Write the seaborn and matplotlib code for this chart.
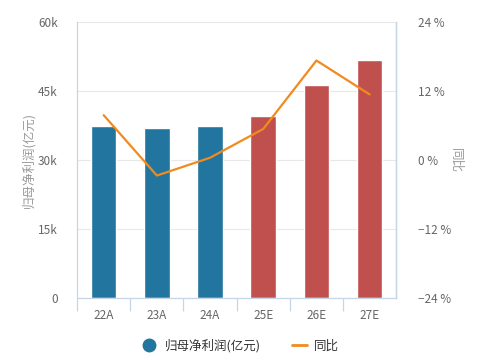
import numpy as np
import pandas as pd
import matplotlib
matplotlib.use("Agg")
import matplotlib.pyplot as plt
from matplotlib.lines import Line2D
from matplotlib.ticker import FuncFormatter, FixedLocator
import seaborn as sns

##chart data
years = ["22A", "23A", "24A", "25E", "26E", "27E"]
profit = [37400, 37000, 37400, 39600, 46300, 51700]   # 归母净利润(亿元)
yoy = [7.8, -2.7, 0.4, 5.4, 17.3, 11.4]               # 同比 %
is_forecast = [False, False, False, True, True, True]

##style
sns.set_theme(style="white")
plt.rcParams['font.family'] = ['Noto Sans CJK SC', 'DejaVu Sans']
blue = "#21759f"
red = "#c0504d"
orange = "#f28a1e"
axis_col = "#c7d6e6"
text_col = "#666666"

df = pd.DataFrame({"year": years, "profit": profit, "yoy": yoy,
                   "kind": ["E" if f else "A" for f in is_forecast]})

fig = plt.figure(figsize=(4.91, 3.6), dpi=100)
ax = fig.add_axes([0.157, 0.172, 0.65, 0.767])

sns.barplot(data=df, x="year", y="profit", hue="kind",
            palette={"A": blue, "E": red}, width=0.48, dodge=False,
            legend=False, saturation=1, ax=ax)
ax.set_ylim(0, 60000)
ax.set_xlim(-0.5, len(years) - 0.5)
ax.yaxis.set_major_locator(FixedLocator([0, 15000, 30000, 45000, 60000]))
ax.yaxis.set_major_formatter(FuncFormatter(lambda v, p: "0" if v == 0 else f"{int(v/1000)}k"))
ax.grid(axis="y", color="#e8e8e8", linewidth=0.8)
ax.set_axisbelow(True)
ax.set_xlabel("")
ax.set_ylabel("归母净利润(亿元)", color="#999999", fontsize=9, labelpad=2)

ax.spines["top"].set_visible(False)
for s in ["left", "right", "bottom"]:
    ax.spines[s].set_color(axis_col)
    ax.spines[s].set_linewidth(0.9)

ax.tick_params(axis="y", length=0, labelsize=8.5, labelcolor=text_col, pad=14)
ax.tick_params(axis="x", length=0, labelsize=8.5, labelcolor=text_col, pad=8)
ax.set_xticks(np.arange(len(years)) - 0.5, minor=True)
ax.tick_params(axis="x", which="minor", bottom=True, length=9, color=axis_col, width=0.9)

##YoY line on right axis
ax2 = ax.twinx()
sns.lineplot(x=np.arange(len(years)), y=yoy, color=orange, linewidth=1.6, ax=ax2)
ax2.set_ylim(-24, 24)
ax2.yaxis.set_major_locator(FixedLocator([-24, -12, 0, 12, 24]))
ax2.yaxis.set_major_formatter(FuncFormatter(lambda v, p: f"{int(v)} %".replace("-", "\u2212")))
ax2.tick_params(axis="y", length=0, labelsize=8.5, labelcolor=text_col, pad=16)
ax2.set_ylabel("同比", color="#999999", fontsize=9, rotation=270)
ax2.yaxis.set_label_coords(1.205, 0.5)
for s in ["top", "left", "bottom"]:
    ax2.spines[s].set_visible(False)
ax2.spines["right"].set_color(axis_col)
ax2.spines["right"].set_linewidth(0.9)

##legend
handles = [Line2D([0], [0], marker="o", color="none", markerfacecolor=blue,
                  markeredgecolor=blue, markersize=9),
           Line2D([0], [0], color=orange, linewidth=2)]
fig.legend(handles, ["归母净利润(亿元)", "同比"], loc="center", bbox_to_anchor=(0.49, 0.04),
           ncol=2, frameon=False, fontsize=9, handlelength=1.2, columnspacing=2.5,
           handletextpad=0.6, labelcolor="#333333")

plt.savefig("out.png", dpi=100)
